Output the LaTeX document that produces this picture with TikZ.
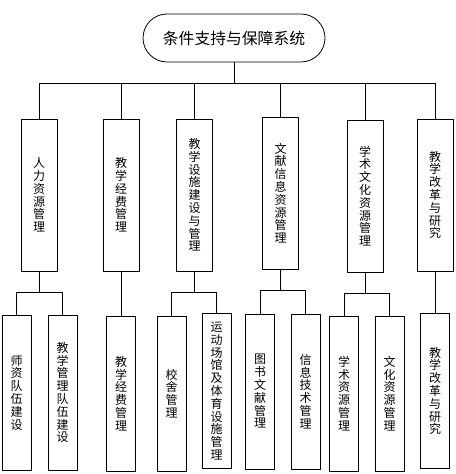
\documentclass[tikz,border=0pt]{standalone}
\usepackage{fontspec}
\setmainfont{Noto Sans CJK SC}
\XeTeXlinebreaklocale "zh"
\XeTeXlinebreakskip=0pt plus 1pt
\setlength{\parindent}{0pt}
\usetikzlibrary{positioning,calc}

\begin{document}
\begin{tikzpicture}[x=0.75pt, y=0.75pt, line width=0.6pt]
	\tikzstyle{rootbox}=[draw, rounded corners=18pt, minimum width=136.5pt, minimum height=36pt, font=\fontsize{11.85}{12}\selectfont]
	\tikzstyle{mainbox}=[draw, minimum width=27pt, minimum height=114pt, inner sep=0pt, text width=10pt, align=center, font=\fontsize{9}{9.6}\selectfont]
	\tikzstyle{subbox}=[draw, minimum width=21.75pt, minimum height=116.25pt, inner sep=0pt, text width=10pt, align=center, font=\fontsize{9}{9.6}\selectfont]
	\useasboundingbox (0,0) rectangle (456,-474);

	\node[rootbox] (S) at (234,-38) {条件支持与保障系统};

	\node[mainbox] (A) at (39,-195)    {人力资源管理};
	\node[mainbox] (B) at (121,-195)   {教学经费管理};
	\node[mainbox] (C) at (194.5,-195) {教学设施建设与管理};
	\node[mainbox] (D) at (280.5,-193) {文献信息资源管理};
	\node[mainbox] (E) at (365,-196)   {学术文化资源管理};
	\node[mainbox] (F) at (435,-195)   {教学改革与研究};

	\node[subbox] (A1) at (16.5,-392.5)  {师资队伍建设};
	\node[subbox] (A2) at (62.5,-392.5)  {教学管理队伍建设};
	\node[subbox] (B1) at (121,-393.5)   {教学经费管理};
	\node[subbox] (C1) at (171.5,-393.5) {校舍管理};
	\node[subbox] (C2) at (216.5,-391)   {运动场馆及体育设施管理};
	\node[subbox] (D1) at (260,-391.5)   {图书文献管理};
	\node[subbox] (D2) at (305.5,-391.5) {信息技术管理};
	\node[subbox] (E1) at (344,-393.5)   {学术资源管理};
	\node[subbox] (E2) at (389.5,-393.5) {文化资源管理};
	\node[subbox] (F1) at (435,-391)     {教学改革与研究};

	\coordinate (bus) at (234,-83);
	\draw (S) -- (bus);
	\foreach \n in {A,B,C,D,E,F}
		\draw (bus) -| (\n.north);

	\foreach \p/\l/\r in {A/A1/A2, C/C1/C2, D/D1/D2, E/E1/E2}
		\draw (\p.south) -- ++(0,-21) coordinate (br) -| (\l.north) (br) -| (\r.north);
	\draw (B) -- (B1);
	\draw (F) -- (F1);
\end{tikzpicture}
\end{document}
